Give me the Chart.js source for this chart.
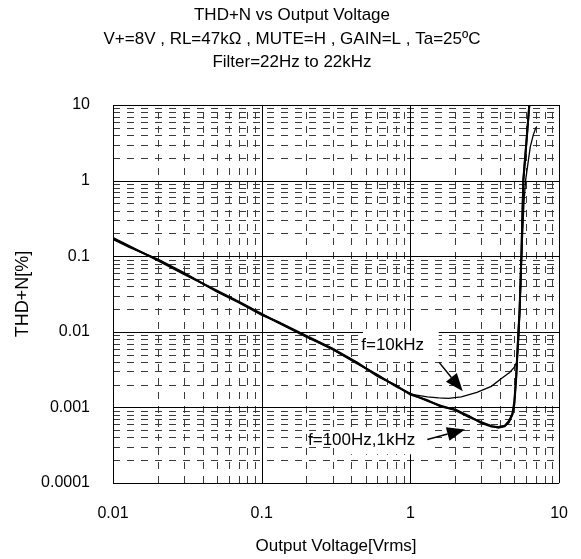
<!DOCTYPE html>
<html><head><meta charset="utf-8">
<script src="https://cdn.jsdelivr.net/npm/chart.js@4"></script>
<style>html,body{margin:0;padding:0;background:#fff;}#wrap{width:581px;height:559px;}</style>
</head><body><div id="wrap"><canvas id="c" width="581" height="559"></canvas></div>
<script>
const titleLines = ['THD+N vs Output Voltage', 'V+=8V , RL=47kΩ , MUTE=H , GAIN=L , Ta=25ºC', 'Filter=22Hz to 22kHz'];
const xAxisTitle = 'Output Voltage[Vrms]';
const yAxisTitle = 'THD+N[%]';
const xTickValues = [0.01, 0.1, 1, 10];
const xTickLabels = ['0.01', '0.1', '1', '10'];
const yTickValues = [0.0001, 0.001, 0.01, 0.1, 1, 10];
const yTickLabels = ['0.0001', '0.001', '0.01', '0.1', '1', '10'];

const voltage100Hz = [0.01, 0.013, 0.02, 0.03, 0.05, 0.07, 0.1, 0.13, 0.2, 0.3, 0.44, 0.6, 0.8, 1.0, 1.3, 1.6, 2.0, 2.5, 3.0, 3.5, 3.9, 4.3, 4.6, 4.85, 5.0, 5.15, 5.3, 5.42, 5.58, 5.75, 6.03, 6.31, 6.5];
const thd100Hz     = [0.175, 0.135, 0.088, 0.058, 0.035, 0.025, 0.0172, 0.0131, 0.0086, 0.0059, 0.0038, 0.0027, 0.0019, 0.00152, 0.00122, 0.00105, 0.00092, 0.00074, 0.00064, 0.00057, 0.00054, 0.00056, 0.00064, 0.0008, 0.0011, 0.0025, 0.008, 0.018, 0.1, 1.0, 3.2, 10, 15];
const voltage1kHz  = [0.01, 0.013, 0.02, 0.03, 0.05, 0.07, 0.1, 0.13, 0.2, 0.3, 0.44, 0.6, 0.8, 1.0, 1.3, 1.6, 2.0, 2.5, 3.0, 3.5, 3.9, 4.3, 4.6, 4.85, 5.0, 5.15, 5.3, 5.42, 5.58, 5.75, 6.03, 6.31, 6.5];
const thd1kHz      = [0.168, 0.131, 0.091, 0.060, 0.034, 0.0245, 0.0168, 0.0134, 0.0088, 0.0060, 0.0039, 0.0026, 0.00195, 0.00148, 0.00125, 0.00103, 0.00094, 0.00076, 0.00062, 0.00056, 0.00055, 0.00057, 0.00066, 0.00082, 0.0012, 0.0027, 0.0085, 0.019, 0.11, 1.05, 3.3, 10.5, 15];
const voltage10kHz = [0.01, 0.013, 0.02, 0.03, 0.05, 0.07, 0.1, 0.13, 0.2, 0.3, 0.44, 0.6, 0.8, 1.0, 1.3, 1.55, 1.8, 2.2, 2.8, 3.5, 4.2, 4.65, 5.0, 5.2, 5.35, 5.45, 5.6, 5.8, 5.95, 6.15, 6.4, 6.7, 7.0];
const thd10kHz     = [0.172, 0.133, 0.089, 0.059, 0.0345, 0.0248, 0.017, 0.0132, 0.0087, 0.0058, 0.00385, 0.00268, 0.00192, 0.0015, 0.00138, 0.00134, 0.00132, 0.00138, 0.00158, 0.0019, 0.0025, 0.0029, 0.0034, 0.004, 0.008, 0.02, 0.1, 0.5, 1.0, 1.6, 2.8, 4.0, 5.1];

// annotation anchors in data units [voltage, thd]
const label10k = {text: 'f=10kHz', at: [0.76, 0.0066], box: [[0.48, 0.0103], [1.55, 0.0041]], arrowFrom: [1.56, 0.00394], arrowTo: [2.25, 0.00163]};
const label100 = {text: 'f=100Hz,1kHz', at: [0.47, 0.000366], box: [[0.31, 0.00054], [1.36, 0.00024]], arrowFrom: [1.30, 0.000377], arrowTo: [2.33, 0.000512]};

const FONT = "'Liberation Sans', Arial, sans-serif";
const pts = (xs, ys) => xs.map((x, i) => ({x, y: ys[i]}));

const gridPlugin = {
  id: 'gridPlugin',
  beforeDatasetsDraw(chart) {
    const {ctx, chartArea: a, scales: {x, y}} = chart;
    ctx.save();
    ctx.lineWidth = 1;
    ctx.strokeStyle = '#3a3a3a';
    ctx.setLineDash([7, 7]);
    for (let k = -2; k <= 0; k++) for (let m = 2; m <= 9; m++) {
      const px = Math.round(x.getPixelForValue(m * Math.pow(10, k))) + 0.5;
      ctx.beginPath(); ctx.moveTo(px, a.bottom); ctx.lineTo(px, a.top); ctx.stroke();
    }
    for (let k = -4; k <= 0; k++) for (let m = 2; m <= 9; m++) {
      const py = Math.round(y.getPixelForValue(m * Math.pow(10, k))) + 0.5;
      ctx.beginPath(); ctx.moveTo(a.left, py); ctx.lineTo(a.right, py); ctx.stroke();
    }
    ctx.setLineDash([]);
    ctx.strokeStyle = '#000';
    xTickValues.forEach(v => {
      const px = Math.round(x.getPixelForValue(v)) + 0.5;
      ctx.beginPath(); ctx.moveTo(px, a.bottom); ctx.lineTo(px, a.top); ctx.stroke();
    });
    yTickValues.forEach(v => {
      const py = Math.round(y.getPixelForValue(v)) + 0.5;
      ctx.beginPath(); ctx.moveTo(a.left, py); ctx.lineTo(a.right, py); ctx.stroke();
    });
    ctx.fillStyle = '#fff';
    [label10k, label100].forEach(L => {
      const x0 = x.getPixelForValue(L.box[0][0]), y0 = y.getPixelForValue(L.box[0][1]);
      const x1 = x.getPixelForValue(L.box[1][0]), y1 = y.getPixelForValue(L.box[1][1]);
      ctx.fillRect(x0, y0, x1 - x0, y1 - y0);
    });
    ctx.restore();
  },
  afterDatasetsDraw(chart) {
    const {ctx, scales: {x, y}} = chart;
    ctx.save();
    ctx.fillStyle = '#000';
    ctx.strokeStyle = '#000';
    ctx.font = '17px ' + FONT;
    ctx.textAlign = 'center';
    ctx.textBaseline = 'middle';
    [label10k, label100].forEach(L => {
      ctx.fillText(L.text, x.getPixelForValue(L.at[0]), y.getPixelForValue(L.at[1]));
      const fx = x.getPixelForValue(L.arrowFrom[0]), fy = y.getPixelForValue(L.arrowFrom[1]);
      const tx = x.getPixelForValue(L.arrowTo[0]), ty = y.getPixelForValue(L.arrowTo[1]);
      const ang = Math.atan2(ty - fy, tx - fx);
      const hl = 18, hw = 7;
      const bx = tx - hl * Math.cos(ang), by = ty - hl * Math.sin(ang);
      ctx.lineWidth = 1.5;
      ctx.beginPath(); ctx.moveTo(fx, fy); ctx.lineTo(bx, by); ctx.stroke();
      ctx.beginPath();
      ctx.moveTo(tx, ty);
      ctx.lineTo(bx + hw * Math.sin(ang), by - hw * Math.cos(ang));
      ctx.lineTo(bx - hw * Math.sin(ang), by + hw * Math.cos(ang));
      ctx.closePath(); ctx.fill();
    });
    ctx.restore();
  },
  afterDraw(chart) {
    const {ctx} = chart;
    ctx.save();
    ctx.fillStyle = '#000';
    ctx.font = '17px ' + FONT;
    ctx.textAlign = 'center';
    ctx.textBaseline = 'middle';
    const ys = [15, 39, 62];
    titleLines.forEach((t, i) => ctx.fillText(t, 292, ys[i]));
    ctx.restore();
  }
};

new Chart(document.getElementById('c'), {
  type: 'scatter',
  data: {
    datasets: [
      {label: 'f=100Hz', data: pts(voltage100Hz, thd100Hz), showLine: true, borderColor: '#000', borderWidth: 2, pointRadius: 0, tension: 0},
      {label: 'f=1kHz', data: pts(voltage1kHz, thd1kHz), showLine: true, borderColor: '#000', borderWidth: 2, pointRadius: 0, tension: 0},
      {label: 'f=10kHz', data: pts(voltage10kHz, thd10kHz), showLine: true, borderColor: '#000', borderWidth: 1.3, pointRadius: 0, tension: 0}
    ]
  },
  options: {
    responsive: false,
    animation: false,
    devicePixelRatio: 1,
    layout: {padding: {top: 105, right: 18, bottom: 0, left: 0}},
    plugins: {legend: {display: false}, tooltip: {enabled: false}, title: {display: false}},
    scales: {
      x: {
        type: 'logarithmic', min: 0.01, max: 10,
        grid: {display: false}, border: {display: false},
        afterBuildTicks: s => { s.ticks = xTickValues.map(v => ({value: v})); },
        afterFit: s => { s.height = 76; },
        ticks: {padding: 13, color: '#000', font: {family: FONT, size: 16}, maxRotation: 0, autoSkip: false,
          callback: v => { const i = xTickValues.findIndex(t => Math.abs(t - v) / t < 1e-6); return i >= 0 ? xTickLabels[i] : ''; }},
        title: {display: true, text: xAxisTitle, color: '#000', font: {family: FONT, size: 17}, padding: {top: 0, bottom: 2}}
      },
      y: {
        type: 'logarithmic', min: 0.0001, max: 10,
        grid: {display: false}, border: {display: false},
        afterBuildTicks: s => { s.ticks = yTickValues.map(v => ({value: v})); },
        afterFit: s => { s.width = 113; },
        ticks: {padding: 15, color: '#000', font: {family: FONT, size: 16}, autoSkip: false,
          callback: v => { const i = yTickValues.findIndex(t => Math.abs(t - v) / t < 1e-6); return i >= 0 ? yTickLabels[i] : ''; }},
        title: {display: true, text: yAxisTitle, color: '#000', font: {family: FONT, size: 18}, padding: {top: 12, bottom: 0}}
      }
    }
  },
  plugins: [gridPlugin]
});
</script>
</body></html>
